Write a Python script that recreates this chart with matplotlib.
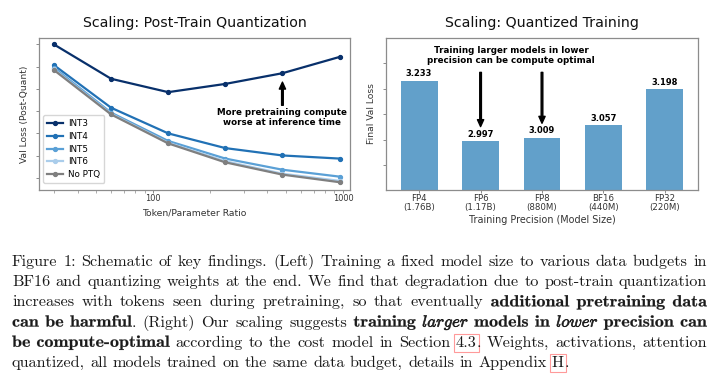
import matplotlib
matplotlib.use("Agg")
import matplotlib.pyplot as plt
import matplotlib.patheffects as pe
from matplotlib.font_manager import FontProperties
from matplotlib.transforms import Affine2D

# ---------------- data ----------------
ratios = [30, 60, 120, 240, 480, 960]
int3 = [3.599, 3.445, 3.385, 3.422, 3.470, 3.543]
int4 = [3.506, 3.315, 3.200, 3.134, 3.101, 3.087]
int5 = [3.494, 3.293, 3.166, 3.087, 3.037, 3.006]
int6 = [3.487, 3.288, 3.158, 3.075, 3.019, 2.987]
noptq = [3.484, 3.285, 3.155, 3.070, 3.015, 2.981]
series_names = ["INT3", "INT4", "INT5", "INT6", "No PTQ"]
series_colors = ["#08306b", "#2171b5", "#5aa0d6", "#aacdeb", "#7f7f7f"]

precisions = ["FP4\n(1.76B)", "FP6\n(1.17B)", "FP8\n(880M)", "BF16\n(440M)", "FP32\n(220M)"]
final_loss = [3.233, 2.997, 3.009, 3.057, 3.198]

W, H = 720, 381
fig = plt.figure(figsize=(W / 100, H / 100), dpi=100)

spine_col = "#8c8c8c"
lab_col = "#333333"

def style_axes(ax):
    for s in ax.spines.values():
        s.set_color(spine_col)
        s.set_linewidth(0.9)
    ax.tick_params(colors=spine_col, labelcolor=lab_col, labelsize=5.9, length=2.2, width=0.7, pad=0.8)
    ax.tick_params(which="minor", colors=spine_col, length=1.8, width=0.5)

# ---------------- left panel ----------------
ax1 = fig.add_axes([39 / W, 1 - 190 / H, (350 - 39) / W, (190 - 38) / H])
for vals, name, col in zip([int3, int4, int5, int6, noptq], series_names, series_colors):
    ax1.plot(ratios, vals, color=col, lw=1.6, marker="o", ms=2.8, label=name)
ax1.set_xscale("log")
ax1.set_xlim(25, 1090)
ax1.set_ylim(2.946, 3.628)
ax1.set_yticks([3.0, 3.1, 3.2, 3.3, 3.4, 3.5, 3.6])
ax1.set_yticklabels([])
ax1.set_xticks([100, 1000])
ax1.set_xticklabels(["100", "1000"])
style_axes(ax1)
ax1.set_title("Scaling: Post-Train Quantization", fontsize=10.2, pad=8, color="#111111")
ax1.set_xlabel("Token/Parameter Ratio", fontsize=6.7, color=lab_col, labelpad=4)
ax1.set_ylabel("Val Loss (Post-Quant)", fontsize=6.6, color=lab_col, labelpad=4)
leg = ax1.legend(loc="lower left", fontsize=6.3, frameon=True, handlelength=1.8,
                 borderpad=0.45, labelspacing=0.42, handletextpad=0.6,
                 bbox_to_anchor=(0.0, 0.018))
leg.get_frame().set_edgecolor("#cccccc")
ax1.annotate("More pretraining compute\nworse at inference time",
             xy=(480, 3.43), xytext=(480, 3.27), ha="center", va="center",
             fontsize=6.3, fontweight="bold",
             arrowprops=dict(facecolor="black", edgecolor="black", width=1.2,
                             headwidth=4.5, headlength=5, shrink=0.0))

# ---------------- right panel ----------------
ax2 = fig.add_axes([386 / W, 1 - 190 / H, (698 - 386) / W, (190 - 38) / H])
xpos = list(range(len(precisions)))
bars = ax2.bar(xpos, final_loss, width=0.6, color="#62a0ca")
ax2.set_ylim(2.803, 3.40)
ax2.set_xlim(-0.54, 4.54)
ax2.set_yticks([2.9, 3.0, 3.1, 3.2, 3.3])
ax2.set_yticklabels([])
ax2.set_xticks(xpos)
ax2.set_xticklabels(precisions, linespacing=1.0)
style_axes(ax2)
ax2.tick_params(axis="x", labelsize=6.2, pad=0.8, length=2)
for b, v in zip(bars, final_loss):
    ax2.annotate(f"{v:.3f}", (b.get_x() + b.get_width() / 2, v), xytext=(0, 1.5),
                 textcoords="offset points", ha="center", va="bottom",
                 fontsize=6.0, fontweight="bold")
ax2.set_title("Scaling: Quantized Training", fontsize=10.2, pad=8, color="#111111")
ax2.set_xlabel("Training Precision (Model Size)", fontsize=6.9, color=lab_col, labelpad=2.5)
ax2.set_ylabel("Final Val Loss", fontsize=6.6, color=lab_col, labelpad=4)
ax2.text(1.5, 3.332, "Training larger models in lower\nprecision can be compute optimal",
         ha="center", va="center", fontsize=6.3, fontweight="bold")
for xi, yh in [(1, 3.052), (2, 3.065)]:
    ax2.annotate("", xy=(xi, yh), xytext=(xi, 3.265),
                 arrowprops=dict(facecolor="black", edgecolor="black", width=1.2,
                                 headwidth=4.5, headlength=5, shrink=0.0))

# ---------------- caption ----------------
R, B, BI, BOX = "r", "b", "bi", "box"
caption_lines = [
    [("Figure 1: Schematic of key findings. (Left) Training a fixed model size to various data budgets in", R)],
    [("BF16 and quantizing weights at the end. We find that degradation due to post-train quantization", R)],
    [("increases with tokens seen during pretraining, so that eventually ", R),
     ("additional pretraining data", B)],
    [("can be harmful", B), (". (Right) Our scaling suggests ", R), ("training ", B),
     ("larger", BI), (" models in ", B), ("lower", BI), (" precision can", B)],
    [("be compute-optimal", B), (" according to the cost model in Section ", R), ("4.3", BOX),
     (". Weights, activations, attention", R)],
    [("quantized, all models trained on the same data budget, details in Appendix ", R),
     ("H", BOX), (".", R)],
]

cap_size = 11.7
fonts = {
    R: FontProperties(family="cmr10", size=cap_size),
    BOX: FontProperties(family="cmr10", size=cap_size),
    B: FontProperties(family="cmb10", size=cap_size),
    BI: FontProperties(family="cmmi10", size=cap_size),
}
stretch = {R: 1.0, BOX: 1.0, B: 1.11, BI: 1.05}
stroke = {R: 0.0, BOX: 0.0, B: 0.15, BI: 0.45}


class HStretch(pe.AbstractPathEffect):
    """Horizontally widen glyph outlines about x0 (display px), optional stroke."""
    def __init__(self, sx, x0, lw, color):
        super().__init__()
        self.sx, self.x0, self.lw, self.color = sx, x0, lw, color

    def draw_path(self, renderer, gc, tpath, affine, rgbFace=None):
        aff = affine + Affine2D().translate(-self.x0, 0).scale(self.sx, 1).translate(self.x0, 0)
        if self.lw > 0:
            gc0 = renderer.new_gc()
            gc0.copy_properties(gc)
            gc0.set_linewidth(self.lw)
            gc0.set_foreground(self.color)
            renderer.draw_path(gc0, tpath, aff, rgbFace)
            gc0.restore()
        else:
            renderer.draw_path(gc, tpath, aff, rgbFace)


fig.canvas.draw()
renderer = fig.canvas.get_renderer()

def tw(s, st):
    w, h, d = renderer.get_text_width_height_descent(s, fonts[st], ismath=False)
    return w * stretch[st]

space_w = tw("a a", R) - tw("aa", R)
x_left, x_right = 12, 707
base0, line_step = 266, 20.2
cap_col = "#1a1a1a"

for li, segs in enumerate(caption_lines):
    words = [[]]
    for txt, st in segs:
        parts = txt.split(" ")
        for i, p in enumerate(parts):
            if i > 0:
                words.append([])
            if p:
                words[-1].append((p, st))
    words = [w for w in words if w]
    widths = [sum(tw(p, st) for p, st in w) for w in words]
    last = li == len(caption_lines) - 1
    if last:
        gap = space_w
    else:
        gap = (x_right - x_left - sum(widths)) / (len(words) - 1)
    x = x_left
    ybase = base0 + li * line_step
    for w, wd in zip(words, widths):
        xx = x
        for p, st in w:
            kw = {}
            if stretch[st] != 1.0 or stroke[st] > 0:
                kw["path_effects"] = [HStretch(stretch[st], xx, stroke[st], cap_col)]
            if st == BOX:
                kw["bbox"] = dict(boxstyle="square,pad=0.12", fc="none", ec="#ff9a9a", lw=0.8)
            fig.text(xx / W, 1 - ybase / H, p, fontproperties=fonts[st], color=cap_col,
                     ha="left", va="baseline", **kw)
            xx += tw(p, st)
        x += wd + gap

fig.savefig("out.png", dpi=100)
